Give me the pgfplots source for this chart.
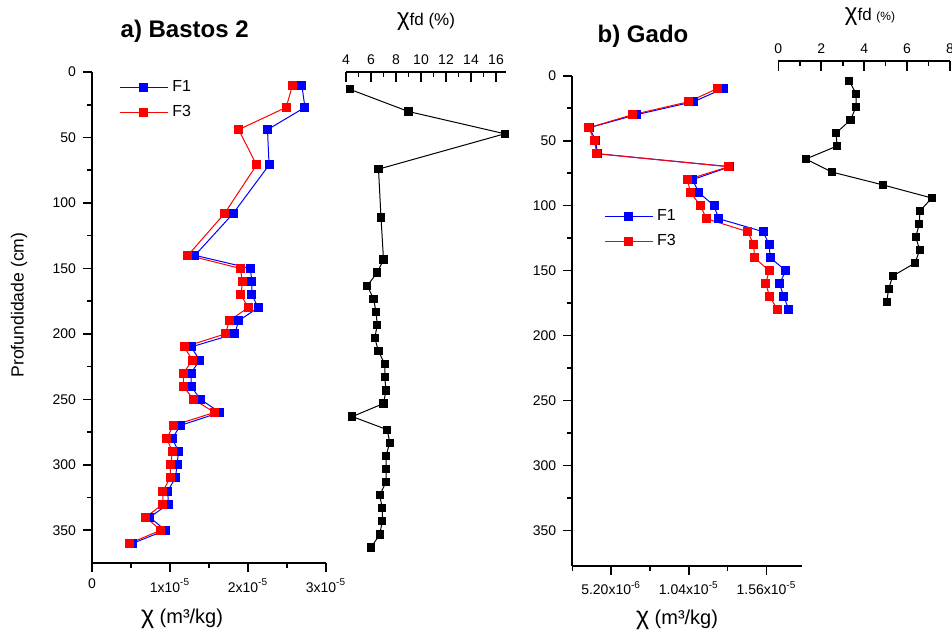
\documentclass[border=0pt]{standalone}
\usepackage{fontspec}
\setmainfont{Liberation Sans}
\usepackage{pgfplots}
\pgfplotsset{compat=1.18}
\definecolor{cF1}{RGB}{0,0,255}
\definecolor{cF3}{RGB}{255,0,0}

\pgfplotsset{
  prof/.style={
    scale only axis, anchor=north west,
    y dir=reverse,
    axis x line*=bottom, axis y line*=left,
    xtick pos=left, ytick pos=left,
    axis line style={line width=1pt},
    tick style={black, line width=0.8pt},
    major tick length=4.5pt, minor tick length=2.5pt,
    tick align=outside,
    ytick={0,50,...,350}, minor ytick={25,75,...,325},
    scaled x ticks=false,
    tick label style={font=\fontsize{7}{8}\selectfont},
    /pgf/number format/assume math mode=true,
    legend style={draw=none, fill=none, font=\fontsize{8}{9}\selectfont,
      anchor=north west, row sep=1.5pt},
    legend cell align=left,
    legend image code/.code={\draw[mark repeat=2,mark phase=2,#1]
      plot coordinates {(0pt,0pt)(12pt,0pt)(24pt,0pt)};},
  },
  fd/.style={
    scale only axis, anchor=north west,
    y dir=reverse,
    axis x line*=top, axis y line=none,
    xtick pos=right, xticklabel pos=right,
    axis line style={line width=1pt},
    tick style={black, line width=0.8pt},
    major tick length=5pt, minor tick length=2.5pt,
    tick align=inside,
    minor x tick num=1,
    tick label style={font=\fontsize{7}{8}\selectfont},
    /pgf/number format/assume math mode=true,
  },
  f1/.style={cF1, line width=0.5pt, mark=square*, mark size=2pt, mark options={fill=cF1, draw=cF1}},
  f3/.style={cF3, line width=0.5pt, mark=square*, mark size=2pt, mark options={fill=cF3, draw=cF3}},
  fdl/.style={black, line width=0.5pt, mark=square*, mark size=1.8pt, mark options={fill=black}},
}

\begin{document}
\begin{tikzpicture}
\useasboundingbox (0,0) rectangle (476pt,-317pt);

% a) Bastos 2
\begin{axis}[prof,
  at={(46pt,-36pt)}, width=117pt, height=245.5pt,
  xmin=0, xmax=3e-5, ymin=0, ymax=375,
  xtick={0,1e-5,2e-5,3e-5},
  xticklabels={0,1x10\textsuperscript{-5},2x10\textsuperscript{-5},3x10\textsuperscript{-5}},
  minor xtick={0.5e-5,1.5e-5,2.5e-5},
  legend style={at={(0.09,1.0)}},
]
\addplot[f1] coordinates {
(2.69e-5,10) (2.73e-5,27) (2.25e-5,44) (2.27e-5,71) (1.81e-5,108) (1.32e-5,140)
(2.03e-5,150) (2.05e-5,160) (2.05e-5,170) (2.13e-5,180) (1.88e-5,190) (1.83e-5,200)
(1.27e-5,210) (1.38e-5,220) (1.27e-5,230) (1.27e-5,240) (1.39e-5,250) (1.64e-5,260)
(1.13e-5,270) (1.03e-5,280) (1.11e-5,290) (1.09e-5,300) (1.07e-5,310) (0.97e-5,320)
(0.98e-5,330) (0.74e-5,340) (0.94e-5,350) (0.52e-5,360)};
\addlegendentry{F1}
\addplot[f3] coordinates {
(2.57e-5,10) (2.49e-5,27) (1.88e-5,44) (2.11e-5,71) (1.70e-5,108) (1.23e-5,140)
(1.90e-5,150) (1.93e-5,160) (1.91e-5,170) (2.00e-5,180) (1.76e-5,190) (1.71e-5,200)
(1.18e-5,210) (1.29e-5,220) (1.17e-5,230) (1.17e-5,240) (1.30e-5,250) (1.57e-5,260)
(1.04e-5,270) (0.96e-5,280) (1.03e-5,290) (1.01e-5,300) (1.00e-5,310) (0.91e-5,320)
(0.91e-5,330) (0.69e-5,340) (0.88e-5,350) (0.48e-5,360)};
\addlegendentry{F3}
\end{axis}

\begin{axis}[fd,
  at={(173pt,-35.85pt)}, width=80pt, height=245.5pt,
  xmin=4, xmax=16.8, ymin=-3.4, ymax=371.6,
  xtick={4,6,...,16},
]
\addplot[fdl] coordinates {
(4.3,10) (9.0,27) (16.7,44) (6.6,71) (6.8,108) (7.0,140) (6.5,150) (5.7,160)
(6.2,170) (6.4,180) (6.5,190) (6.3,200) (6.6,210) (7.1,220) (7.1,230) (7.2,240)
(7.0,250) (4.5,260) (7.3,270) (7.5,280) (7.2,290) (7.2,300) (7.2,310) (6.7,320)
(6.9,330) (6.9,340) (6.7,350) (6.0,360)};
\end{axis}

% b) Gado
\begin{axis}[prof,
  at={(286.15pt,-37.85pt)}, width=115pt, height=245pt,
  xmin=2.6e-6, xmax=1.8e-5, ymin=0, ymax=377,
  xtick={5.2e-6,1.04e-5,1.56e-5},
  xticklabels={5.20x10\textsuperscript{-6},1.04x10\textsuperscript{-5},1.56x10\textsuperscript{-5}},
  minor xtick={2.6e-6,7.8e-6,1.3e-5},
  legend style={at={(0.11,0.745)}},
]
\addplot[f1] coordinates {
(12.69e-6,10) (10.72e-6,20) (6.88e-6,30) (3.74e-6,40) (4.17e-6,50) (4.28e-6,60)
(13.14e-6,70) (10.65e-6,80) (11.08e-6,90) (12.09e-6,100) (12.40e-6,110) (15.38e-6,120)
(15.78e-6,130) (15.85e-6,140) (16.90e-6,150) (16.47e-6,160) (16.76e-6,170) (17.10e-6,180)};
\addlegendentry{F1}
\addplot[f3] coordinates {
(12.29e-6,10) (10.39e-6,20) (6.63e-6,30) (3.70e-6,40) (4.08e-6,50) (4.24e-6,60)
(13.07e-6,70) (10.30e-6,80) (10.52e-6,90) (11.19e-6,100) (11.57e-6,110) (14.35e-6,120)
(14.75e-6,130) (14.79e-6,140) (15.78e-6,150) (15.55e-6,160) (15.82e-6,170) (16.34e-6,180)};
\addlegendentry{F3}
\end{axis}

\begin{axis}[fd,
  at={(389.15pt,-30.5pt)}, width=85.85pt, height=245pt,
  xmin=0, xmax=8, ymin=-5.4, ymax=371.6,
  xtick={0,2,...,8},
]
\addplot[fdl] coordinates {
(3.31,10) (3.63,20) (3.62,30) (3.36,40) (2.69,50) (2.74,60) (1.28,70) (2.49,80)
(4.89,90) (7.15,100) (6.60,110) (6.57,120) (6.40,130) (6.59,140) (6.37,150)
(5.33,160) (5.14,170) (5.05,180)};
\end{axis}

% titles and labels
\node[font=\bfseries\fontsize{12}{13}\selectfont] at (92.35pt,-15.85pt) {a) Bastos 2};
\node[font=\bfseries\fontsize{12}{13}\selectfont] at (321.5pt,-18.35pt) {b) Gado};
\node at (213pt,-11pt) {{\fontsize{12}{13}\selectfont χ}{\fontsize{8.5}{9}\selectfont fd (\%)}};
\node at (435pt,-8.5pt) {{\fontsize{12}{13}\selectfont χ}{\fontsize{8.5}{9}\selectfont fd }{\fontsize{6}{7}\selectfont (\%)}};
\node[rotate=90, font=\fontsize{8.8}{10}\selectfont] at (9.5pt,-152.5pt) {Profundidade (cm)};
\node at (91pt,-309.5pt) {{\fontsize{12.5}{13}\selectfont χ}{\fontsize{10}{11}\selectfont\ (m³/kg)}};
\node at (338.5pt,-310pt) {{\fontsize{12.5}{13}\selectfont χ}{\fontsize{10}{11}\selectfont\ (m³/kg)}};
\end{tikzpicture}
\end{document}
